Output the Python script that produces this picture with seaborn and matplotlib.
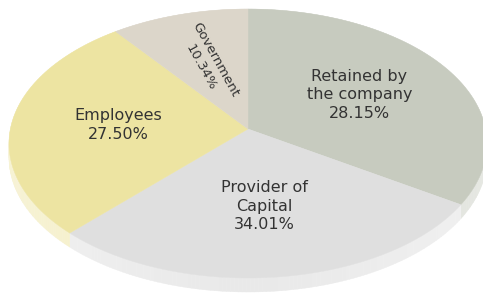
import numpy as np
import matplotlib
matplotlib.use('Agg')
import matplotlib.pyplot as plt
import seaborn as sns
from matplotlib.patches import Polygon

# slices, clockwise from 12 o'clock
names = ["Retained by\nthe company", "Provider of\nCapital", "Employees", "Government"]
shown_pct = [28.15, 34.01, 27.50, 10.34]      # percentages printed on the chart
slice_share = [34.01, 28.15, 27.50, 10.34]    # wedge sizes as drawn (first two labels are swapped in the source)
top_colors = ["#c7cbbf", "#dfdfdf", "#ede4a2", "#dcd6ca"]

# fake 3d look: perspective squash of the unit pie into pixel space
CX, CY = 248, 129
SX, SY, K = 237.6, 132.9, 0.108
DEPTH = 14


def project(x, y, drop=0.0):
    d = 1 + K * y
    return CX + SX * x / d, CY - SY * y / d + drop


def lighten(c, f):
    r, g, b = matplotlib.colors.to_rgb(c)
    return (r + (1 - r) * f, g + (1 - g) * f, b + (1 - b) * f)


sns.set_theme(style="white")
plt.rcParams['font.family'] = ['DejaVu Sans']

fig = plt.figure(figsize=(4.83, 2.94), dpi=100)
ax = fig.add_axes([0, 0, 1, 1])

labels = [f"{n}\n{p:.2f}%" for n, p in zip(names, shown_pct)]
wedges, texts = ax.pie(slice_share, labels=labels, colors=top_colors, startangle=90,
                       counterclock=False, labeldistance=0.55)

# swap the flat wedges for projected ones
sides = []
tops = []
for w, col in zip(wedges, top_colors):
    th = np.radians(np.linspace(w.theta1, w.theta2, 120))
    xs, ys = np.cos(th), np.sin(th)
    px, py = project(xs, ys)
    tops.append(Polygon(np.column_stack([np.r_[CX, px], np.r_[CY, py]]),
                        closed=True, facecolor=col, edgecolor=col, lw=0.3, zorder=3))
    for i in range(len(th) - 1):
        f = 0.3 + 0.25 * abs(np.cos(th[i]))
        qx = [px[i], px[i + 1], px[i + 1], px[i]]
        qy = [py[i], py[i + 1], py[i + 1] + DEPTH, py[i] + DEPTH]
        c = lighten(col, f)
        sides.append(Polygon(np.column_stack([qx, qy]), closed=True,
                             facecolor=c, edgecolor=c, lw=0.3, zorder=2))
    w.remove()

for p in sides + tops:
    ax.add_patch(p)

for t in texts:
    x, y = t.get_position()
    t.set_position(project(x, y))
    t.set_ha('center')
    t.set_va('center')
    t.set_multialignment('center')
    t.set_fontsize(11.5)
    t.set_color('#333333')
    t.set_linespacing(1.3)
    t.set_zorder(5)

# small slice label runs along the wedge
texts[3].set_fontsize(9.5)
texts[3].set_rotation(-61)
texts[3].set_rotation_mode('anchor')
texts[3].set_linespacing(1.4)

ax.set_aspect('auto')
ax.set_xlim(0, 483)
ax.set_ylim(294, 0)
ax.axis('off')

fig.savefig("out.png", dpi=100, facecolor='white')
